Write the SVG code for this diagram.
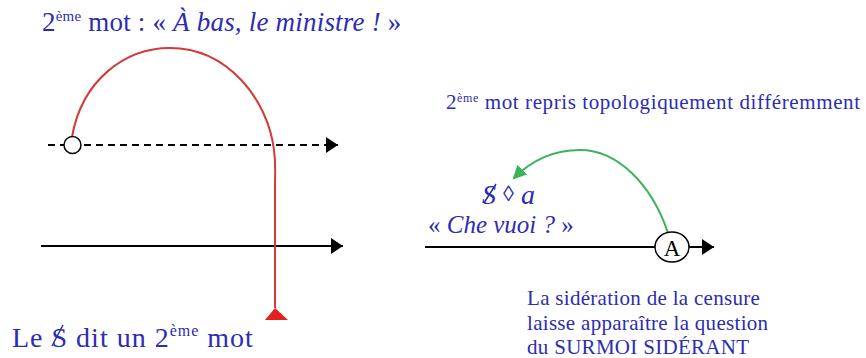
<svg xmlns="http://www.w3.org/2000/svg" width="866" height="358" viewBox="0 0 866 358">
<defs>
<style>
.blu{fill:#2c2cb4;font-family:'Liberation Serif','Times New Roman',serif}
.it{font-style:italic}
.k{stroke:#000;stroke-width:2;fill:none}
</style>
<marker id="ab" viewBox="0 0 12 16" refX="12" refY="8" markerWidth="12" markerHeight="16" markerUnits="userSpaceOnUse" orient="auto"><path d="M0,0 L12,8 L0,16 Z" fill="#000"/></marker>
<marker id="ag" viewBox="0 0 14 14" refX="12" refY="7" markerWidth="14" markerHeight="14" markerUnits="userSpaceOnUse" orient="auto"><path d="M0,0 L14,7 L0,14 Z" fill="#3cb45a"/></marker>
</defs>
<rect width="866" height="358" fill="#fff"/>
<g id="connectors">
<line x1="48" y1="145" x2="338" y2="145" class="k" stroke-dasharray="7 5" marker-end="url(#ab)"/>
<line x1="41" y1="246" x2="343" y2="246" class="k" marker-end="url(#ab)"/>
<path d="M72,137 C82,80 125,48 170,48 C228,48 268,100 274,150 C276,165 275,175 275,185 L275,308" fill="none" stroke="#d33a3a" stroke-width="2"/>
<path d="M265,320 L275,308 L288,320 Z" fill="#e22020"/>
<line x1="425" y1="247" x2="655" y2="247" class="k"/>
<line x1="689" y1="247" x2="714" y2="247" class="k" marker-end="url(#ab)"/>
<path d="M668,233 C652,185 618,150 580,150 C552,150 530,162 514,178" fill="none" stroke="#3cb45a" stroke-width="2" marker-end="url(#ag)"/>
</g>
<g id="node-circle-left">
<circle cx="72.5" cy="145" r="8.5" fill="#fff" stroke="#000" stroke-width="1.5"/>
</g>
<g id="node-A">
<ellipse cx="672" cy="247" rx="17" ry="15" fill="#fff" stroke="#000" stroke-width="1.5"/>
<text x="672" y="256" font-family="Liberation Serif,serif" font-size="23" text-anchor="middle" fill="#000">A</text>
</g>
<g id="label-top">
<text x="42" y="31" class="blu" font-size="27" letter-spacing="0.2">2<tspan font-size="15" dy="-10">ème</tspan><tspan dy="10"> mot : « </tspan><tspan class="it">À bas, le ministre ! </tspan>»</text>
</g>
<g id="label-bottom-left">
<text x="12" y="347" class="blu" font-size="28" letter-spacing="1">Le <tspan>S</tspan> dit un 2<tspan font-size="16" dy="-11">ème</tspan><tspan dy="11"> mot</tspan></text>
<line x1="52" y1="346" x2="63" y2="325" stroke="#2c2cb4" stroke-width="1.5"/>
</g>
<g id="label-right-top">
<text x="446" y="109" class="blu" font-size="21" letter-spacing="0.6">2<tspan font-size="12" dy="-7">ème</tspan><tspan dy="7"> mot repris topologiquement différemment</tspan></text>
</g>
<g id="label-matheme">
<text x="482" y="204" class="blu it" font-size="28">S <tspan font-style="normal" font-size="22" dy="-3">◊</tspan><tspan dy="3"> a</tspan></text>
<line x1="484" y1="203" x2="496" y2="184" stroke="#2c2cb4" stroke-width="1.5"/>
<text x="428" y="233" class="blu" font-size="25">« <tspan class="it">Che vuoi ? </tspan>»</text>
</g>
<g id="label-bottom-right">
<text class="blu" font-size="21" letter-spacing="0.3"><tspan x="527" y="305">La sidération de la censure</tspan><tspan x="527" y="330">laisse apparaître la question</tspan><tspan x="527" y="354">du SURMOI SIDÉRANT</tspan></text>
</g>
</svg>
